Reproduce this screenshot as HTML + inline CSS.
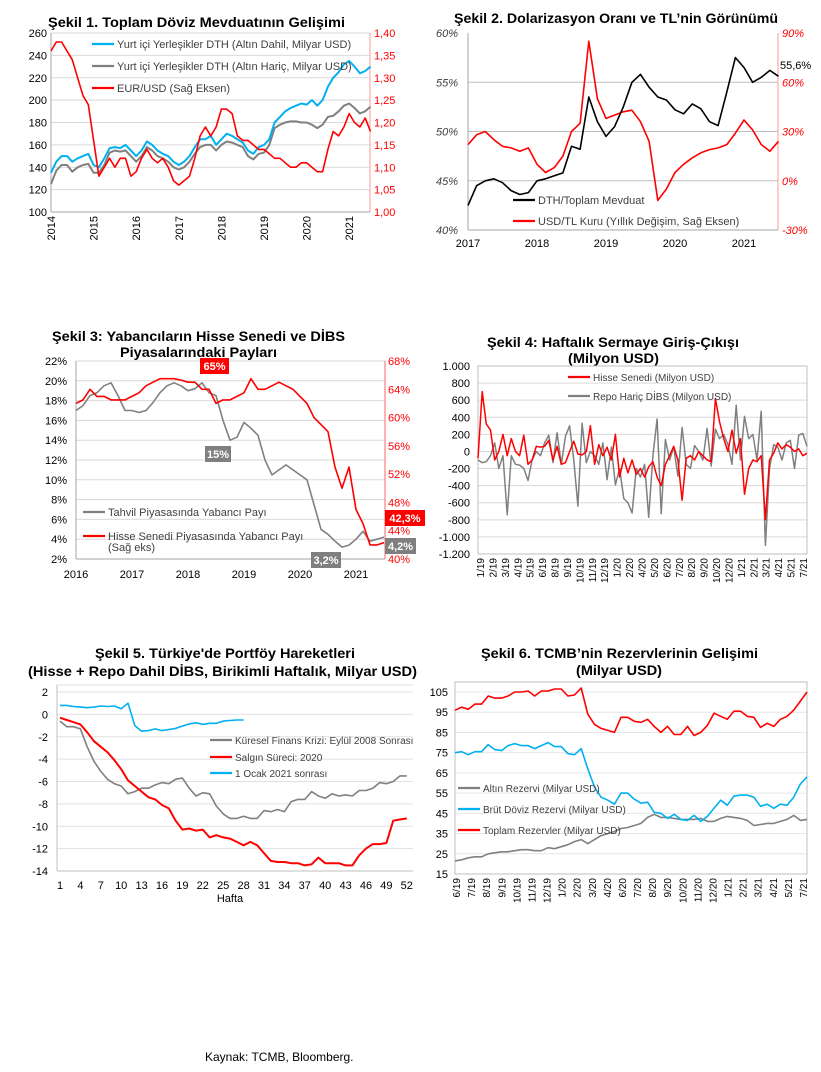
<!DOCTYPE html>
<html><head><meta charset="utf-8"><title>Charts</title>
<style>
body{margin:0;background:#fff;}
svg{display:block;font-family:"Liberation Sans",Arial,sans-serif;}
.t{font-weight:bold;font-size:14px;fill:#000;}
.tk{font-size:11px;fill:#000;}
.lg{font-size:11px;fill:#404040;}
</style></head>
<body>
<svg id="root" xmlns="http://www.w3.org/2000/svg" width="821" height="1072" viewBox="0 0 821 1072">
<rect x="0" y="0" width="821" height="1072" fill="#fff"/>
<text class="t" x="48" y="27" textLength="297" lengthAdjust="spacingAndGlyphs">Şekil 1. Toplam Döviz Mevduatının Gelişimi</text>
<text class="t" x="454" y="23" textLength="324" lengthAdjust="spacingAndGlyphs">Şekil 2. Dolarizasyon Oranı ve TL’nin Görünümü</text>
<text class="t" x="52" y="341" textLength="293" lengthAdjust="spacingAndGlyphs">Şekil 3: Yabancıların Hisse Senedi ve DİBS</text>
<text class="t" x="120" y="357" textLength="157" lengthAdjust="spacingAndGlyphs">Piyasalarındaki Payları</text>
<text class="t" x="487" y="347" textLength="252" lengthAdjust="spacingAndGlyphs">Şekil 4: Haftalık Sermaye Giriş-Çıkışı</text>
<text class="t" x="568" y="363" textLength="91" lengthAdjust="spacingAndGlyphs">(Milyon USD)</text>
<text class="t" x="95" y="658" textLength="260" lengthAdjust="spacingAndGlyphs">Şekil 5. Türkiye'de Portföy Hareketleri</text>
<text class="t" x="28" y="676" textLength="389" lengthAdjust="spacingAndGlyphs">(Hisse + Repo Dahil DİBS, Birikimli Haftalık, Milyar USD)</text>
<text class="t" x="481" y="658" textLength="277" lengthAdjust="spacingAndGlyphs">Şekil 6. TCMB’nin Rezervlerinin Gelişimi</text>
<text class="t" x="576" y="675" textLength="86" lengthAdjust="spacingAndGlyphs">(Milyar USD)</text>
<text x="205" y="1061" font-size="12" fill="#000">Kaynak: TCMB, Bloomberg.</text>
</svg>
<script>
// ---- Chart 1 data (step 1/8 year from 2014) ----
const c1Years=["2014","2015","2016","2017","2018","2019","2020","2021"];
const c1LeftTicks=[100,120,140,160,180,200,220,240,260];
const c1RightTicks=["1,00","1,05","1,10","1,15","1,20","1,25","1,30","1,35","1,40"];
const c1Blue=[135,145,150,150,145,148,150,152,142,140,148,157,158,157,160,155,150,155,163,160,155,152,150,145,142,145,150,158,165,165,168,160,165,170,168,165,162,155,152,158,160,165,180,185,190,193,195,197,196,200,195,200,212,220,225,232,235,230,224,226,230];
const c1Gray=[125,137,142,142,136,140,142,143,135,135,142,153,155,154,155,150,145,150,158,155,150,148,145,140,138,140,145,152,158,160,160,155,160,163,162,160,158,150,147,152,153,160,175,178,180,181,181,180,180,178,175,178,185,186,190,195,197,193,188,190,194];
const c1Red=[1.36,1.38,1.38,1.36,1.34,1.30,1.26,1.24,1.16,1.08,1.10,1.12,1.10,1.12,1.12,1.08,1.09,1.12,1.14,1.12,1.11,1.12,1.10,1.07,1.06,1.07,1.08,1.12,1.17,1.19,1.17,1.19,1.23,1.23,1.22,1.17,1.16,1.16,1.15,1.14,1.14,1.13,1.12,1.12,1.11,1.10,1.10,1.11,1.11,1.10,1.09,1.09,1.14,1.18,1.17,1.19,1.22,1.20,1.19,1.21,1.18];
// ---- Chart 2 ----
const c2Years=["2017","2018","2019","2020","2021"];
const c2LeftTicks=[40,45,50,55,60];
const c2RightTicks=[-30,0,30,60,90];
const c2Dth=[42.5,44.5,45,45.2,44.8,44,43.6,43.8,45,45.2,45.5,45.8,48.5,48.2,53.5,51,49.5,50.5,52.5,55,55.8,54.5,53.5,53.2,52.2,51.8,52.8,52.3,51,50.6,54,57.5,56.5,55,55.5,56.2,55.6];
const c2Usd=[22,28,30,25,21,20,18,20,10,5,8,15,30,35,85,50,38,40,42,43,36,24,-12,-5,5,10,14,17,19,20,22,29,37,31,22,18,24];
// ---- Chart 3 ----
const c3Years=["2016","2017","2018","2019","2020","2021"];
const c3LeftTicks=[2,4,6,8,10,12,14,16,18,20,22];
const c3RightTicks=[40,44,48,52,56,60,64,68];
const c3Bond=[17,17.5,18.5,18.8,19.5,19.8,18.5,17,17,16.8,17,17.8,18.8,19.5,19.8,19.5,19,19.2,19.8,18.8,18.5,16,14,14.3,15.8,15.2,14.5,12,10.5,11,11.5,11,10.5,10,7.5,5,4.5,3.8,3.2,3.4,4,4.8,3.8,4,4.2];
const c3Equity=[62,62.5,64,63,63,62.5,62.5,62.5,63,63.5,64.5,65,65.5,65.5,65.5,65.3,65,65,64,64,62,62.5,62.5,63,63.5,65.5,64,64,64.5,65,64.5,64,63,62,60,59,58,53,50,53,47,45,42,42,42.3];
// ---- Chart 4 ----
const c4Ticks=[-1200,-1000,-800,-600,-400,-200,0,200,400,600,800,1000];
const c4TickLabels=["-1.200","-1.000","-800","-600","-400","-200","0","200","400","600","800","1.000"];
const c4Dates=["1/19","2/19","3/19","4/19","5/19","6/19","8/19","9/19","10/19","11/19","12/19","1/20","2/20","4/20","5/20","6/20","7/20","8/20","9/20","10/20","12/20","1/21","2/21","3/21","4/21","5/21","7/21"];
const c4Equity=[-80,700,320,250,-100,0,200,-50,150,0,-50,190,-150,-100,60,50,60,130,-100,60,-150,-130,0,120,-30,-40,0,300,-150,80,-50,50,-100,200,-300,-80,-250,-100,-270,-200,-300,-180,-120,-300,-400,-150,-50,60,-100,-570,-80,-50,-100,0,-50,-100,-120,620,350,150,0,250,-20,150,-500,-200,-100,-120,-50,-800,-100,-20,100,30,80,50,0,30,-50,-20];
const c4Bond=[-100,-130,-120,-50,100,-200,-50,-740,-50,-150,-160,-200,-340,-100,0,-50,100,190,-130,220,-150,180,300,-100,-640,330,-130,0,-50,-150,100,-330,50,-390,-200,-550,-600,-720,-200,-300,-150,-770,-50,380,-730,140,-100,50,-290,280,-150,-200,70,0,-100,270,-170,260,150,200,80,-150,540,-100,410,150,200,-100,470,-1100,-200,80,50,-100,100,130,-200,190,210,60];
// ---- Chart 5 ----
const c5Ticks=[-14,-12,-10,-8,-6,-4,-2,0,2];
const c5Weeks=[1,4,7,10,13,16,19,22,25,28,31,34,37,40,43,46,49,52];
const c5Gfc=[-0.6,-1.1,-1.1,-1.3,-2.9,-4.2,-5.1,-5.8,-6.2,-6.4,-7.1,-6.9,-6.6,-6.6,-6.3,-6.1,-6.2,-5.8,-5.7,-6.6,-7.3,-7.0,-7.1,-8.2,-8.9,-9.3,-9.3,-9.1,-9.3,-9.3,-8.6,-8.7,-8.5,-8.7,-7.8,-7.6,-7.6,-6.9,-7.3,-7.5,-7.1,-7.3,-7.2,-7.3,-6.8,-6.8,-6.6,-6.1,-6.2,-6.0,-5.5,-5.5];
const c5Covid=[-0.3,-0.5,-0.7,-0.9,-1.6,-2.4,-2.9,-3.4,-4.1,-4.9,-5.9,-6.4,-6.9,-7.4,-7.6,-8.1,-8.4,-9.5,-10.3,-10.2,-10.4,-10.3,-11.0,-10.8,-11.0,-11.1,-11.4,-11.7,-11.4,-11.7,-12.4,-13.1,-13.2,-13.2,-13.3,-13.3,-13.5,-13.4,-12.8,-13.3,-13.3,-13.3,-13.5,-13.5,-12.6,-12.0,-11.6,-11.6,-11.5,-9.5,-9.4,-9.3];
const c5Y2021=[0.8,0.8,0.7,0.65,0.6,0.65,0.75,0.7,0.75,0.5,1.0,-1.0,-1.5,-1.45,-1.3,-1.45,-1.35,-1.25,-1.05,-0.85,-0.75,-0.9,-0.8,-0.8,-0.6,-0.55,-0.5,-0.5];
// ---- Chart 6 ----
const c6Ticks=[15,25,35,45,55,65,75,85,95,105];
const c6Dates=["6/19","7/19","8/19","9/19","10/19","11/19","12/19","1/20","2/20","3/20","4/20","6/20","7/20","8/20","9/20","10/20","11/20","12/20","1/21","2/21","3/21","4/21","5/21","7/21"];
const c6Total=[96,97.5,96.5,99,99,103,102,102,103,105,105,105.5,103,105.5,105.5,106.5,106.5,103,103.5,107,94,89,87,86,85,92.5,92.5,90.5,90,91.5,88,85,88,84,84,88,83.5,85,88.5,94.5,93,91.5,95.5,95.5,93,92.5,87.5,89.5,88,91.5,93,96,100.5,105];
const c6Fx=[75,75.5,74,75.5,75.5,79,76.5,76,78.5,79.5,78.5,78.5,77,78.5,80,78,78,74.5,74,77,67,58,53,51.5,49.5,55,55,52,50,50.5,45.5,45,42.5,44.5,42,41.5,44,41,43.5,47.5,51.5,49,53.5,54,54,53,48.5,49.5,47.5,49.5,49,53,59.5,63];
const c6Gold=[21.5,22,23,23.5,23.5,25,25.5,26,26,26.5,27,27,26.5,26.5,28,27.5,28.5,29.5,31,32,30,32,34,35,36,37.5,38,39,40,43,44.5,43,43,42.5,42,42,42,42.5,41,41,42.5,43.5,43,42.5,41.5,39,39.5,40,40,41,42,44,41.5,42];

const NS="http://www.w3.org/2000/svg";
const root=document.getElementById('root');
function mk(tag,attrs){const e=document.createElementNS(NS,tag);for(const k in attrs)e.setAttribute(k,attrs[k]);root.appendChild(e);return e;}
function txt(x,y,s,size,fill,anchor,extra){const e=mk('text',Object.assign({x:x,y:y,'font-size':size,fill:fill,'text-anchor':anchor||'start'},extra||{}));e.textContent=s;return e;}
function poly(vals,xf,yf,color,w,name){
  const p=mk('polyline',{points:vals.map((v,i)=>xf(i).toFixed(1)+','+yf(v).toFixed(1)).join(' '),fill:'none',stroke:color,'stroke-width':w,'stroke-linejoin':'round'});
  
  
  return p;
}
function hline(x1,x2,y,color,name){const l=mk('line',{x1:x1,x2:x2,y1:y,y2:y,stroke:color,'stroke-width':1});
  
  return l;}
function vline(x,y1,y2,color,name){const l=mk('line',{x1:x,x2:x,y1:y1,y2:y2,stroke:color,'stroke-width':1});
  
  return l;}
function legend(x,y,color,label,size,name){const l=mk('line',{x1:x,x2:x+22,y1:y,y2:y,stroke:color,'stroke-width':2.2});
  
  
  const t=txt(x+25,y+4,label,size,'#404040');
  
  }
function tick(x,y,s,size,fill,anchor,name,extra){const t=txt(x,y,s,size,fill,anchor,extra);
  
  return t;}
function box(x,y,w,h,color,label,name){const r=mk('rect',{x:x,y:y,width:w,height:h,fill:color});
  
  
  const t=txt(x+w/2,y+h-4,label,11,'#fff','middle',{'font-weight':'bold'});
  
  }

// ===== Chart 1 =====
(function(){
 const L=51,R=370,T=33,B=212;
 const x=i=>L+(i/8)*42.6, yl=v=>B-(v-100)*(B-T)/160, yr=v=>B-(v-1.0)*(B-T)/0.4;
 c1LeftTicks.forEach(v=>{ if(v>100) hline(L,R,yl(v),'#d9d9d9','chart1-gridline'); tick(47,yl(v)+4,String(v),11,'#000','end','chart1-y-tick'); });
 c1RightTicks.forEach((s,i)=>{ tick(374,B-i*(B-T)/8+4,s,11,'#ff0000','start','chart1-y2-tick'); });
 vline(L,T,B,'#a6a6a6','chart1-y-axis'); vline(R,T,B,'#ff9a9a','chart1-y2-axis'); hline(L,R,B,'#a6a6a6','chart1-x-axis');
 c1Years.forEach((s,k)=>{ const xx=L+k*42.6; tick(xx+4,B+4,s,11,'#000','end','chart1-x-tick',{transform:'rotate(-90 '+(xx+4)+' '+(B+4)+')'}); });
 poly(c1Gray,x,yl,'#808080',2,'chart1-series-dth-excl-gold');
 poly(c1Blue,x,yl,'#00b0f0',2,'chart1-series-dth-incl-gold');
 poly(c1Red,x,yr,'#ff0000',1.6,'chart1-series-eurusd');
 legend(92,44,'#00b0f0','Yurt içi Yerleşikler DTH (Altın Dahil, Milyar USD)',11,'chart1-legend-blue');
 legend(92,66,'#808080','Yurt içi Yerleşikler DTH (Altın Hariç, Milyar USD)',11,'chart1-legend-gray');
 legend(92,88,'#ff0000','EUR/USD (Sağ Eksen)',11,'chart1-legend-red');
})();

// ===== Chart 2 =====
(function(){
 const L=468,R=778,T=33,B=230;
 const x=i=>L+(i/8)*69, yl=v=>B-(v-40)*(B-T)/20, yr=v=>B-(v+30)*(B-T)/120;
 c2LeftTicks.forEach(v=>{ if(v>40&&v<60) hline(L,R,yl(v),'#bfbfbf','chart2-gridline'); tick(458,yl(v)+4,v+'%',11,'#404040','end','chart2-y-tick',{'font-style':'italic'}); });
 c2RightTicks.forEach(v=>{ tick(782,yr(v)+4,v+'%',11,'#ff0000','start','chart2-y2-tick',{'font-style':'italic'}); });
 vline(L,T,B,'#a6a6a6','chart2-y-axis'); vline(R,T,B,'#ff9a9a','chart2-y2-axis'); hline(L,R,B,'#a6a6a6','chart2-x-axis');
 c2Years.forEach((s,k)=>tick(L+k*69,247,s,11,'#000','middle','chart2-x-tick'));
 poly(c2Usd,x,yr,'#ff0000',1.6,'chart2-series-usdtl');
 poly(c2Dth,x,yl,'#000000',1.6,'chart2-series-dth-ratio');
 tick(780,69,'55,6%',11,'#000','start','chart2-last-value-label');
 legend(513,200,'#000','DTH/Toplam Mevduat',11,'chart2-legend-dth');
 legend(513,221,'#ff0000','USD/TL Kuru (Yıllık Değişim, Sağ Eksen)',11,'chart2-legend-usdtl');
})();

// ===== Chart 3 =====
(function(){
 const L=76,R=385,T=361,B=559;
 const x=i=>L+(i/8)*56, yl=v=>B-(v-2)*(B-T)/20, yr=v=>B-(v-40)*(B-T)/28;
 c3LeftTicks.forEach(v=>{ if(v>2) hline(L,R,yl(v),'#d9d9d9','chart3-gridline'); tick(67,yl(v)+4,v+'%',11,'#000','end','chart3-y-tick'); });
 c3RightTicks.forEach(v=>tick(388,yr(v)+4,v+'%',11,'#ff0000','start','chart3-y2-tick'));
 vline(L,T,B,'#a6a6a6','chart3-y-axis'); vline(R,T,B,'#ff6666','chart3-y2-axis'); hline(L,R,B,'#a6a6a6','chart3-x-axis');
 c3Years.forEach((s,k)=>tick(L+k*56,578,s,11,'#000','middle','chart3-x-tick'));
 poly(c3Bond,x,yl,'#808080',1.6,'chart3-series-bond-share');
 poly(c3Equity,x,yr,'#ff0000',1.6,'chart3-series-equity-share');
 legend(83,512,'#808080','Tahvil Piyasasında Yabancı Payı',11,'chart3-legend-bond');
 legend(83,536,'#ff0000','Hisse Senedi Piyasasında Yabancı Payı',11,'chart3-legend-equity');
 tick(108,551,'(Sağ eks)',11,'#404040','start','chart3-legend-equity-note');
 box(200,358,29,16,'#ff0000','65%','chart3-label-65');
 box(205,446,26,16,'#7f7f7f','15%','chart3-label-15');
 box(311,552,30,16,'#7f7f7f','3,2%','chart3-label-3-2');
 box(385,538,31,16,'#7f7f7f','4,2%','chart3-label-4-2');
 box(385,510,40,16,'#ff0000','42,3%','chart3-label-42-3');
})();

// ===== Chart 4 =====
(function(){
 const L=478,R=807,T=366,B=554;
 const x=i=>L+i*(R-L)/79, y=v=>B-(v+1200)*(B-T)/2200;
 c4Ticks.forEach((v,i)=>{ hline(L,R,y(v),'#d9d9d9','chart4-gridline'); tick(470,y(v)+4,c4TickLabels[i],11,'#000','end','chart4-y-tick'); });
 mk('rect',{x:L,y:T,width:R-L,height:B-T,fill:'none',stroke:'#bfbfbf'});
 c4Dates.forEach((s,k)=>{ const xx=480+k*(803-480)/26; tick(xx+4,558,s,10,'#000','end','chart4-x-tick',{transform:'rotate(-90 '+(xx+4)+' 558)'}); });
 poly(c4Bond,x,y,'#808080',1.5,'chart4-series-bonds');
 poly(c4Equity,x,y,'#ff0000',1.5,'chart4-series-equity');
 legend(568,377,'#ff0000','Hisse Senedi (Milyon USD)',10,'chart4-legend-equity');
 legend(568,396,'#808080','Repo Hariç DİBS (Milyon USD)',10,'chart4-legend-bonds');
})();

// ===== Chart 5 =====
(function(){
 const L=57,R=413,T=692,B=871;
 const x=i=>60+i*6.8, y=v=>B-(v+14)*(B-T)/16;
 c5Ticks.forEach(v=>{ if(v>-14) hline(L,R,y(v),'#e0e0e0','chart5-gridline'); tick(48,y(v)+4,String(v),11,'#000','end','chart5-y-tick'); });
 vline(L,685,B,'#bfbfbf','chart5-y-axis'); hline(L,R,B,'#bfbfbf','chart5-x-axis'); hline(L,R,685,'#e0e0e0','chart5-top-border');
 c5Weeks.forEach(w=>tick(60+(w-1)*6.8,889,String(w),11,'#000','middle','chart5-x-tick'));
 tick(230,902,'Hafta',11,'#000','middle','chart5-x-axis-title');
 poly(c5Gfc,x,y,'#808080',1.6,'chart5-series-gfc-2008');
 poly(c5Covid,x,y,'#ff0000',2,'chart5-series-covid-2020');
 poly(c5Y2021,x,y,'#00b0f0',1.6,'chart5-series-2021');
 legend(210,740,'#808080','Küresel Finans Krizi: Eylül 2008 Sonrası',10,'chart5-legend-gfc');
 legend(210,757,'#ff0000','Salgın Süreci: 2020',10,'chart5-legend-covid');
 legend(210,773,'#00b0f0','1 Ocak 2021 sonrası',10,'chart5-legend-2021');
})();

// ===== Chart 6 =====
(function(){
 const L=455,R=807,T=682,B=874;
 const x=i=>L+i*(R-L)/53, y=v=>B-(v-15)*182/90;
 c6Ticks.forEach(v=>{ if(v>15) hline(L,R,y(v),'#e6e6e6','chart6-gridline'); tick(448,y(v)+4,String(v),11,'#000','end','chart6-y-tick'); });
 mk('rect',{x:L,y:T,width:R-L,height:B-T,fill:'none',stroke:'#bfbfbf'});
 c6Dates.forEach((s,k)=>{ const xx=456+k*(803-456)/23; tick(xx+4,878,s,10,'#000','end','chart6-x-tick',{transform:'rotate(-90 '+(xx+4)+' 878)'}); });
 poly(c6Gold,x,y,'#808080',1.6,'chart6-series-gold');
 poly(c6Fx,x,y,'#00b0f0',1.6,'chart6-series-fx');
 poly(c6Total,x,y,'#ff0000',1.6,'chart6-series-total');
 legend(458,788,'#808080','Altın Rezervi (Milyar USD)',10,'chart6-legend-gold');
 legend(458,809,'#00b0f0','Brüt Döviz Rezervi (Milyar USD)',10,'chart6-legend-fx');
 legend(458,830,'#ff0000','Toplam Rezervler (Milyar USD)',10,'chart6-legend-total');
})();
</script>
</body></html>
